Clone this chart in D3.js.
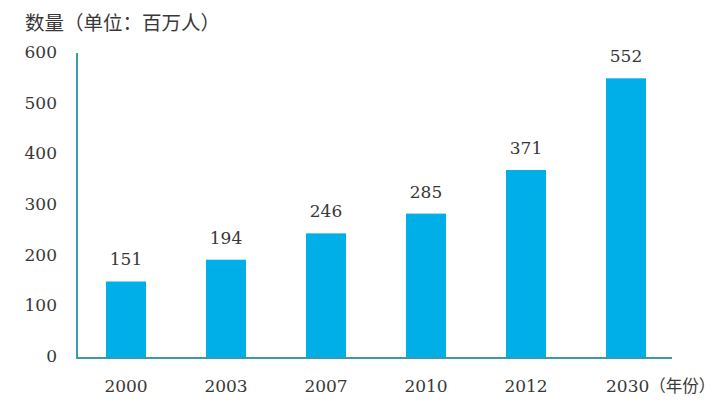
<!DOCTYPE html>
<html><head><meta charset="utf-8">
<script src="https://cdn.jsdelivr.net/npm/d3@7"></script>
<style>body{margin:0;background:#fff}</style>
</head><body>
<svg id="c" width="720" height="413"></svg>
<script>
const categories = ["2000","2003","2007","2010","2012","2030"];
const values = [151,194,246,285,371,552];
const yTicks = [0,100,200,300,400,500,600];
const title = "数量（单位：百万人）";
const xUnit = "（年份）";

const svg = d3.select("#c");
const serif = "'DejaVu Serif','Liberation Serif',serif";
const cjk = "'Noto Sans CJK SC',sans-serif";
const x = d3.scaleBand().domain(categories).range([76,676]).paddingInner(0.6).paddingOuter(0.3);
const y = d3.scaleLinear().domain([0,600]).range([358,54]);
const axisColor = "#3d9aa6";
const textColor = "#383838";

svg.append("text").attr("x",25).attr("y",30).attr("font-family",cjk)
  .attr("font-size",19.5).attr("fill",textColor).text(title);

// bars
svg.selectAll("rect.bar").data(values).join("rect")
  .attr("x",(d,i)=>x(categories[i])).attr("width",x.bandwidth())
  .attr("y",d=>y(d)).attr("height",d=>y(0)-y(d)).attr("fill","#00aee8");

// value labels
svg.selectAll("text.val").data(values).join("text")
  .attr("x",(d,i)=>x(categories[i])+x.bandwidth()/2).attr("y",d=>y(d)-16)
  .attr("text-anchor","middle").attr("font-family",serif).attr("font-size",17).attr("fill",textColor)
  .text(d=>d);

// y axis
const ya = svg.append("g").attr("transform","translate(77,0)")
  .call(d3.axisLeft(y).tickValues(yTicks).tickSize(0).tickPadding(20));
ya.select(".domain").attr("stroke",axisColor).attr("stroke-width",2).attr("d","M0,53V358");
ya.selectAll("text").attr("font-family",serif).attr("font-size",17).attr("fill",textColor).attr("dy","0.2em");

// x axis
const xa = svg.append("g").attr("transform","translate(0,358)")
  .call(d3.axisBottom(x).tickSize(0).tickPadding(22));
xa.select(".domain").attr("stroke",axisColor).attr("stroke-width",2).attr("d","M76,0H672");
xa.selectAll("text").attr("font-family",serif).attr("font-size",17).attr("fill",textColor);
const last = xa.selectAll(".tick").filter(d=>d==="2030").select("text");
last.text(null);
last.append("tspan").text("2030");
last.append("tspan").attr("font-family",cjk).attr("font-size",16.5).text(xUnit);
last.attr("text-anchor","start").attr("x",-x.bandwidth()/2);
</script>
</body></html>
